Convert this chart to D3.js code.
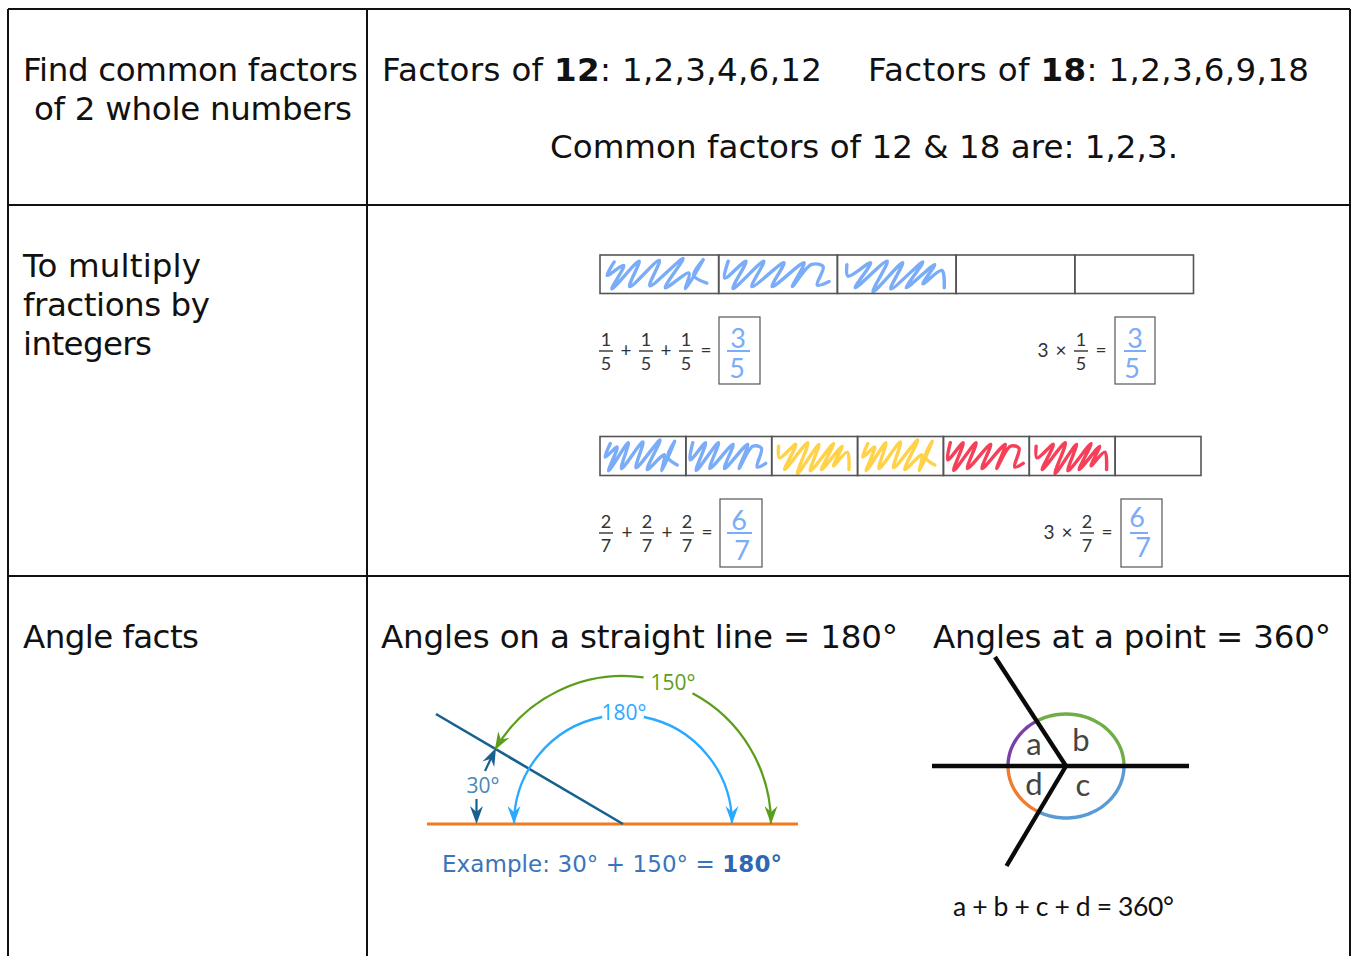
<!DOCTYPE html>
<html><head><meta charset="utf-8">
<script src="https://cdn.jsdelivr.net/npm/d3@7"></script>
<style>html,body{margin:0;padding:0;background:#fff;overflow:hidden}svg{display:block}</style>
</head><body><svg id="c" width="1354" height="956"></svg>
<script>
const rowLabels = [["Find common factors","of 2 whole numbers"],["To multiply","fractions by","integers"],["Angle facts"]];
const factorsA = "1,2,3,4,6,12", factorsB = "1,2,3,6,9,18", numberA = "12", numberB = "18";
const commonLine = "Common factors of 12 & 18 are: 1,2,3.";
const fifthsFill = ["blue","blue","blue",null,null];
const sevenFill = ["blue","blue","yellow","yellow","red","red",null];
const shapeA = [[12,18],[6,53],[20,27],[10,88],[33,16],[25,82],[50,14],[42,80],[70,9],[55,85],[75,47],[72,88],[87,12],[79,53],[90,73]];
const shapeB = [[8,16],[5,60],[23,16],[12,87],[38,16],[28,82],[55,20],[45,82],[72,20],[62,82],[78,25],[88,30],[83,78],[93,69]];
const shapeC = [[8,25],[9,55],[28,20],[15,85],[42,16],[30,95],[55,20],[45,88],[72,18],[58,85],[82,25],[72,75],[88,40],[90,85]];
const shapes = [shapeA,shapeB,shapeC];
const anglesLine = [30,150,180];
const pointArcs = [["a",120,180,"#7b3fa8"],["b",0,120,"#70ad47"],["c",-120,0,"#5b9bd5"],["d",180,240,"#ed7d31"]];
const sum1 = "a + b + c + d = 360°";

const svg = d3.select("#c");
const colors = {blue:"#7aacf8",yellow:"#ffd24a",red:"#f6405a"};
const body = "'DejaVu Sans'";
const bodySize = 32.5, tx = (s,x,y,o={}) => {
  const t = svg.append("text").attr("x",x).attr("y",y).attr("fill",o.fill||"#111")
    .attr("font-family",o.font||body).attr("font-size",o.size||bodySize)
    .attr("text-anchor",o.anchor||"start");
  if(o.w) t.attr("textLength",o.w).attr("lengthAdjust","spacing");
  t.text(s); return t;
};

// table grid
const gridX = d3.scaleOrdinal([0,1,2],[8,367,1350]);
const gridY = d3.scaleOrdinal([0,1,2,3],[9,205,576,960]);
[0,1,2].forEach(i=>svg.append("line").attr("x1",gridX(i)).attr("x2",gridX(i)).attr("y1",9).attr("y2",960).attr("stroke","#111").attr("stroke-width",2));
[0,1,2].forEach(i=>svg.append("line").attr("x1",8).attr("x2",1350).attr("y1",gridY(i)).attr("y2",gridY(i)).attr("stroke","#111").attr("stroke-width",2));

// labels
tx(rowLabels[0][0],23,81,{w:335}); tx(rowLabels[0][1],34,120,{w:318});
const midWidths=[178,187,129];
rowLabels[1].forEach((s,i)=>tx(s,23,277+39*i,{w:midWidths[i]}));
tx(rowLabels[2][0],23,648,{w:176});

function factorLine(n,list,x,w){
  const t = tx("",x,81,{w});
  t.append("tspan").text("Factors of ");
  t.append("tspan").attr("font-weight","bold").text(n);
  t.append("tspan").text(": "+list);
}
factorLine(numberA,factorsA,382,440); factorLine(numberB,factorsB,868,441);
tx(commonLine,550,158,{w:628});

// bars with scribbles
const line = d3.line().curve(d3.curveCatmullRom.alpha(.5));
function bar(fill,x0,x1,y0,y1){
  const x = d3.scaleLinear().domain([0,fill.length]).range([x0,x1]);
  fill.forEach((c,i)=>{
    if(c){
      const u = d3.scaleLinear().domain([0,100]).range([x(i),x(i+1)]);
      const v = d3.scaleLinear().domain([0,100]).range([y0,y1]);
      svg.append("path").attr("d",line(shapes[i%3].map(p=>[u(p[0]),v(p[1])])))
        .attr("fill","none").attr("stroke",colors[c]).attr("stroke-width",3.4).attr("stroke-linecap","round");
    }
  });
  fill.forEach((c,i)=>svg.append("rect").attr("x",x(i)).attr("y",y0).attr("width",x(i+1)-x(i)).attr("height",y1-y0)
    .attr("fill","none").attr("stroke","#555").attr("stroke-width",1.6));
}
bar(fifthsFill,600,1193.5,255,293.5);
bar(sevenFill,600,1201,436.5,475.5);

// fraction equations
const mathFont = "Lato";
function frac(n,d,x,y){
  tx(n,x,y-5,{font:mathFont,size:18,anchor:"middle",fill:"#333"});
  tx(d,x,y+19,{font:mathFont,size:18,anchor:"middle",fill:"#333"});
  svg.append("line").attr("x1",x-7).attr("x2",x+7).attr("y1",y).attr("y2",y).attr("stroke","#333").attr("stroke-width",1.4);
}
const op = (s,x,y)=>tx(s,x,y+6,{font:mathFont,size:19,anchor:"middle",fill:"#333"});
function box(x0,x1,y0,y1,n,d,nx,dx,ny,dy,lx0,lx1,ly){
  svg.append("rect").attr("x",x0).attr("y",y0).attr("width",x1-x0).attr("height",y1-y0)
    .attr("fill","none").attr("stroke","#555").attr("stroke-width",1.2);
  tx(n,nx,ny,{font:"Lato",size:27,anchor:"middle",fill:colors.blue});
  tx(d,dx,dy,{font:"Lato",size:27,anchor:"middle",fill:colors.blue});
  svg.append("line").attr("x1",lx0).attr("x2",lx1).attr("y1",ly).attr("y2",ly).attr("stroke",colors.blue).attr("stroke-width",2);
}
[606,646,686].forEach(x=>frac("1","5",x,351));
op("+",626,351);op("+",666,351);op("=",706,351);
box(719,760,317,384,"3","5",738,737,348,378,727,750,351);
op("3",1043,351);op("×",1061,351);frac("1","5",1081,351);op("=",1101,351);
box(1115,1155,317,384,"3","5",1135,1132,348,378,1124,1146,351);
[606,647,687].forEach(x=>frac("2","7",x,533));
op("+",627,533);op("+",667,533);op("=",707,533);
box(720,762,499,567,"6","7",739,742,530,560,727,752,533);
op("3",1049,533);op("×",1067,533);frac("2","7",1087,533);op("=",1107,533);
box(1121,1162,499,567,"6","7",1137,1143,527,557,1130,1148,533);

// straight-line angle diagram
tx("Angles on a straight line = 180°",381,648,{w:517});
tx("Angles at a point = 360°",933,648,{w:398});
const cx=623, cy=824, rad=d3.scaleLinear().domain([0,180]).range([0,Math.PI]);
const px=(r,a)=>cx+r*Math.cos(rad(a)), py=(r,a)=>cy-r*Math.sin(rad(a));
const head=(x,y,deg,col)=>svg.append("path").attr("d","M0,0L-6.5,-18L0,-12L6.5,-18Z").attr("fill",col)
  .attr("transform",`translate(${x},${y}) rotate(${deg})`);
function arc(r,a0,a1,col){
  const p=d3.path(); p.arc(cx,cy,r,-rad(a0),-rad(a1),true);
  svg.append("path").attr("d",p.toString()).attr("fill","none").attr("stroke",col).attr("stroke-width",2.3);
}
const green="#5a9e1a", sky="#2aaaff", navy="#17608f", orange="#f47a20";
svg.append("line").attr("x1",427).attr("x2",798).attr("y1",cy).attr("y2",cy).attr("stroke",orange).attr("stroke-width",2.8);
svg.append("line").attr("x1",cx).attr("y1",cy).attr("x2",px(216,180-anglesLine[0])).attr("y2",py(216,180-anglesLine[0])-2).attr("stroke",navy).attr("stroke-width",2.6);
arc(148,0,62,green); arc(148,82,anglesLine[1],green);
arc(109,0,79,sky); arc(109,101,anglesLine[2],sky);
head(px(148,0),cy,0,green);
head(px(148,anglesLine[1]),py(148,anglesLine[1]),30,green);
head(px(109,0),cy,0,sky);
head(px(109,anglesLine[2]),cy,0,sky);
tx(anglesLine[1]+"°",673,690,{font:"'Open Sans'",size:21,anchor:"middle",fill:green});
tx(anglesLine[2]+"°",624,720,{font:"'Open Sans'",size:21,anchor:"middle",fill:sky});
tx(anglesLine[0]+"°",483,793,{font:"'Open Sans'",size:21,anchor:"middle",fill:"#4a88b5"});
svg.append("line").attr("x1",476.5).attr("x2",476.5).attr("y1",799).attr("y2",820).attr("stroke",navy).attr("stroke-width",2.2);
head(476.5,824,0,navy);
svg.append("line").attr("x1",485).attr("y1",771).attr("x2",494).attr("y2",752).attr("stroke",navy).attr("stroke-width",2.2);
head(496,748,-154.7,navy);
{
  const t=tx("",442,872,{size:23,fill:"#3b74b8",w:340});
  t.append("tspan").text("Example: 30° + 150° = ");
  t.append("tspan").attr("font-weight","bold").attr("fill","#2e68b4").text("180°");
}

// angles at a point
const ox=1066, oy=766, ex=d3.scaleLinear().domain([-1,1]).range([ox-58,ox+58]), ey=d3.scaleLinear().domain([-1,1]).range([oy+52,oy-52]);
const ell=d3.line().x(d=>ex(Math.cos(d*Math.PI/180))).y(d=>ey(Math.sin(d*Math.PI/180))).curve(d3.curveCatmullRom);
pointArcs.forEach(a=>{
  svg.append("path").attr("d",ell(d3.range(a[1],a[2]+.1,5))).attr("fill","none").attr("stroke",a[3]).attr("stroke-width",3.4);
});
[[932,766,1189,766],[1066,766,995,657],[1066,766,1006.5,866]].forEach(l=>
  svg.append("line").attr("x1",l[0]).attr("y1",l[1]).attr("x2",l[2]).attr("y2",l[3]).attr("stroke","#0a0a0a").attr("stroke-width",4.4));
[[pointArcs[0][0],1034,755],[pointArcs[1][0],1081,751],[pointArcs[2][0],1083,796],[pointArcs[3][0],1034,795]].forEach(d=>
  tx(d[0],d[1],d[2],{font:"Lato",size:31,anchor:"middle",fill:"#444"}));
tx(sum1,953,916,{font:"Lato",size:26.5,w:221,fill:"#111"});
</script></body></html>
